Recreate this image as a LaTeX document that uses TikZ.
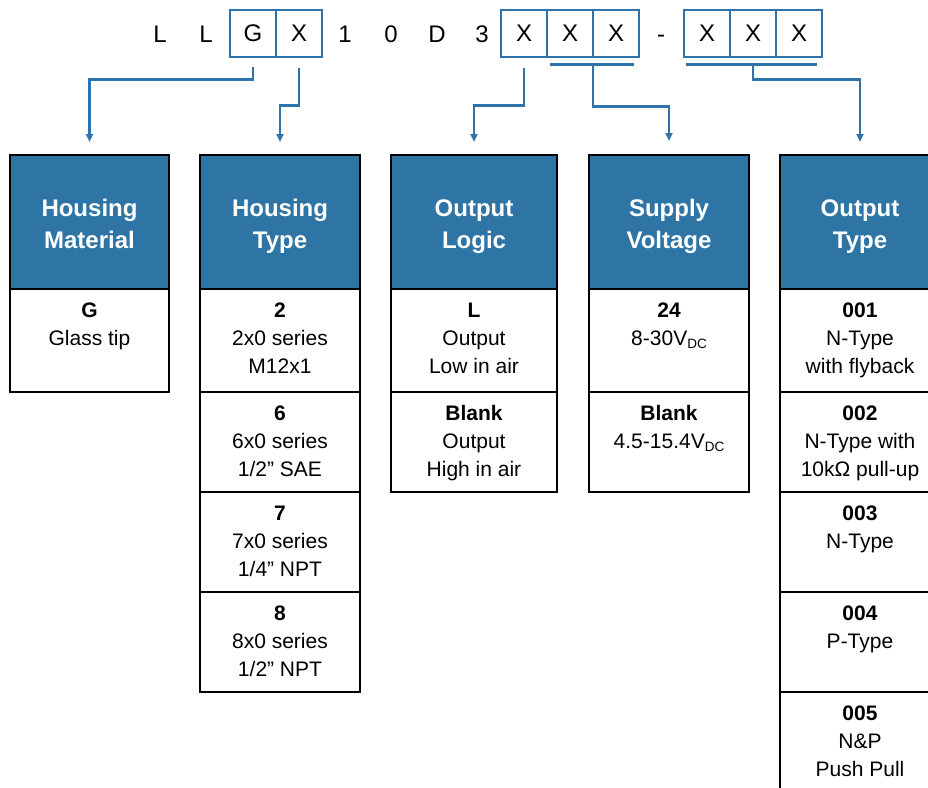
\documentclass[tikz,border=0pt]{standalone}
\usepackage{fontspec}
\setmainfont{Liberation Sans}
\usetikzlibrary{arrows.meta,calc}
\definecolor{hblue}{HTML}{2E75A6}
\definecolor{lblue}{HTML}{2E74AB}
\newcommand\subdc{\raisebox{-3.5pt}{\fontsize{13.5}{13.5}\selectfont DC}}
\newcommand\cstrut{\rule{0pt}{15.5pt}}
\newcommand\hstrut{\rule{0pt}{18pt}}
\begin{document}
\begin{tikzpicture}[x=1pt,y=-1pt,
  topch/.style={font=\fontsize{24}{24}\selectfont,anchor=base,inner sep=0},
  topbox/.style={draw=lblue,line width=2pt,minimum width=46,minimum height=47,inner sep=0,outer sep=0,
     font=\fontsize{24}{24}\selectfont,text height=17.2pt,text depth=0pt},
  hdr/.style={draw=black,fill=hblue,line width=2pt,minimum height=134,inner sep=0,outer sep=0,anchor=north west},
  cellbox/.style={draw=black,line width=2pt,minimum height=#1,inner sep=0,outer sep=0,anchor=north west},
  cellbox/.default=100,
  htxt/.style={text=white,font=\fontsize{24}{32}\selectfont\bfseries,align=center,inner sep=0,anchor=north},
  ctxt/.style={font=\fontsize{21}{28}\selectfont,align=center,inner sep=0,anchor=north},
  conn/.style={draw=lblue,line width=2.2pt,-{Triangle[length=8pt,width=7pt]}},
  brk/.style={draw=lblue,line width=2.2pt}
]
\useasboundingbox (0,0) rectangle (928,787);
\clip (0,0) rectangle (928,787);

% ---- top code line ----
\node[topch] (l1) at (160,42) {L};
\node[topch] (l2) at (206,42) {L};
\node[topbox] (tG) at (253,33) {G};
\node[topbox] (tX1) at (299,33) {X};
\node[topch] (n1) at (345,42) {1};
\node[topch] (n0) at (391,42) {0};
\node[topch] (nD) at (437,42) {D};
\node[topch] (n3) at (482,42) {3};
\node[topbox] (tXa) at (524,33) {X};
\node[topbox] (tXb) at (570,33) {X};
\node[topbox] (tXc) at (616,33) {X};
\node[topch] (dash) at (661,42) {-};
\node[topbox] (tXd) at (707,33) {X};
\node[topbox] (tXe) at (753,33) {X};
\node[topbox] (tXf) at (799,33) {X};

% ---- column 1 ----
\node[hdr,minimum width=159] (h1) at (10,155) {};
\node[htxt] (h1t) at ($(h1.north)+(0,43)$) {\hstrut Housing\\Material};
\node[cellbox=103,minimum width=159] (c1a) at (10,289) {};
\node[ctxt] (t1a) at ($(c1a.north)+(0,12.5)$) {\cstrut\textbf{G}\\Glass tip};

% ---- column 2 ----
\node[hdr,minimum width=160] (h2) at (200,155) {};
\node[htxt] (h2t) at ($(h2.north)+(0,43)$) {\hstrut Housing\\Type};
\node[cellbox=103,minimum width=160] (c2a) at (200,289) {};
\node[cellbox,minimum width=160] (c2b) at (200,392) {};
\node[cellbox,minimum width=160] (c2c) at (200,492) {};
\node[cellbox,minimum width=160] (c2d) at (200,592) {};
\node[ctxt] (t2a) at ($(c2a.north)+(0,12.5)$) {\cstrut\textbf{2}\\2x0 series\\M12x1};
\node[ctxt] (t2b) at ($(c2b.north)+(0,12.5)$) {\cstrut\textbf{6}\\6x0 series\\1/2” SAE};
\node[ctxt] (t2c) at ($(c2c.north)+(0,12.5)$) {\cstrut\textbf{7}\\7x0 series\\1/4” NPT};
\node[ctxt] (t2d) at ($(c2d.north)+(0,12.5)$) {\cstrut\textbf{8}\\8x0 series\\1/2” NPT};

% ---- column 3 ----
\node[hdr,minimum width=166] (h3) at (391,155) {};
\node[htxt] (h3t) at ($(h3.north)+(0,43)$) {\hstrut Output\\Logic};
\node[cellbox=103,minimum width=166] (c3a) at (391,289) {};
\node[cellbox,minimum width=166] (c3b) at (391,392) {};
\node[ctxt] (t3a) at ($(c3a.north)+(0,12.5)$) {\cstrut\textbf{L}\\Output\\Low in air};
\node[ctxt] (t3b) at ($(c3b.north)+(0,12.5)$) {\cstrut\textbf{Blank}\\Output\\High in air};

% ---- column 4 ----
\node[hdr,minimum width=160] (h4) at (589,155) {};
\node[htxt] (h4t) at ($(h4.north)+(0,43)$) {\hstrut Supply\\Voltage};
\node[cellbox=103,minimum width=160] (c4a) at (589,289) {};
\node[cellbox,minimum width=160] (c4b) at (589,392) {};
\node[ctxt] (t4a) at ($(c4a.north)+(0,12.5)$) {\cstrut\textbf{24}\\8-30V\subdc};
\node[ctxt] (t4b) at ($(c4b.north)+(0,12.5)$) {\cstrut\textbf{Blank}\\4.5-15.4V\subdc};

% ---- column 5 ----
\node[hdr,minimum width=160] (h5) at (780,155) {};
\node[htxt] (h5t) at ($(h5.north)+(0,43)$) {\hstrut Output\\Type};
\node[cellbox=103,minimum width=160] (c5a) at (780,289) {};
\node[cellbox,minimum width=160] (c5b) at (780,392) {};
\node[cellbox,minimum width=160] (c5c) at (780,492) {};
\node[cellbox,minimum width=160] (c5d) at (780,592) {};
\node[cellbox,minimum width=160] (c5e) at (780,692) {};
\node[ctxt] (t5a) at ($(c5a.north)+(0,12.5)$) {\cstrut\textbf{001}\\N-Type\\with flyback};
\node[ctxt] (t5b) at ($(c5b.north)+(0,12.5)$) {\cstrut\textbf{002}\\N-Type with\\10kΩ pull-up};
\node[ctxt] (t5c) at ($(c5c.north)+(0,12.5)$) {\cstrut\textbf{003}\\N-Type};
\node[ctxt] (t5d) at ($(c5d.north)+(0,12.5)$) {\cstrut\textbf{004}\\P-Type};
\node[ctxt] (t5e) at ($(c5e.north)+(0,12.5)$) {\cstrut\textbf{005}\\N\&P\\Push Pull};

% ---- connectors ----
\coordinate (s1) at ($(tG.south)+(0,10)$);
\coordinate (s2) at ($(tX1.south)+(0,11)$);
\coordinate (s3) at ($(tXa.south)+(0,11)$);
\coordinate (b1l) at ($(tXb.south west)+(3,8)$);
\coordinate (b1r) at ($(tXc.south east)+(-5,8)$);
\coordinate (m1) at ($(tXb.south east)+(0,8)$);
\coordinate (b2l) at ($(tXd.south west)+(2,8)$);
\coordinate (b2r) at ($(tXf.south east)+(-5,8)$);
\coordinate (m2) at ($(tXe.south)+(0,8)$);

\draw[brk] (b1l) -- (b1r);
\draw[brk] (b2l) -- (b2r);
\draw[conn] (s1) -- ++(0,13) -| ($(h1.north)+(0,-13)$);
\draw[conn] (s2) -- ++(0,38) -| ($(h2.north)+(0,-13)$);
\draw[conn] (s3) -- ++(0,38) -| ($(h3.north)+(0,-13)$);
\draw[conn] (m1) -- ++(0,42) -| ($(h4.north)+(0,-14)$);
\draw[conn] (m2) -- ++(0,15) -| ($(h5.north)+(0,-13)$);
\end{tikzpicture}
\end{document}
